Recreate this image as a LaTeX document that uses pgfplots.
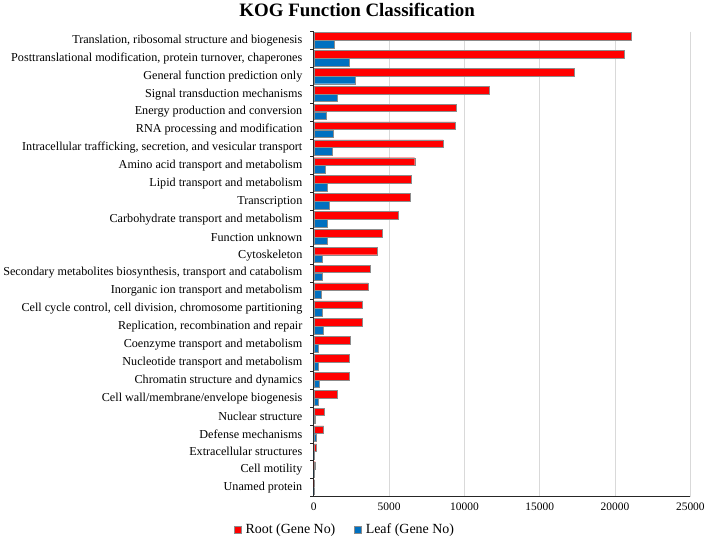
\documentclass[border=0pt]{standalone}
\usepackage{pgfplots}
\pgfplotsset{compat=1.18}
\usepackage{fontspec}
\setmainfont{Liberation Serif}
\definecolor{rootred}{RGB}{255,0,0}
\definecolor{leafblue}{RGB}{0,112,192}
\definecolor{gridgray}{RGB}{217,217,217}
\begin{document}
\begin{tikzpicture}
\begin{axis}[
  width=376.6bp, height=465bp,
  scale only axis,
  xbar,
  bar width=7.6bp,
  y dir=reverse,
  xmin=0, xmax=25000,
  ymin=-0.5, ymax=25.5,
  xtick={0,5000,...,25000},
  scaled x ticks=false,
  /pgf/number format/1000 sep={},
  /pgf/number format/assume math mode=true,
  xmajorgrids, major grid style={gridgray, line width=0.8pt},
  ytick={0,...,25},
  yticklabels={
    {Translation, ribosomal structure and biogenesis},
    {Posttranslational modification, protein turnover, chaperones},
    {General function prediction only},
    {Signal transduction mechanisms},
    {Energy production and conversion},
    {RNA processing and modification},
    {Intracellular trafficking, secretion, and vesicular transport},
    {Amino acid transport and metabolism},
    {Lipid transport and metabolism},
    {Transcription},
    {Carbohydrate transport and metabolism},
    {Function unknown},
    {Cytoskeleton},
    {Secondary metabolites biosynthesis, transport and catabolism},
    {Inorganic ion transport and metabolism},
    {Cell cycle control, cell division, chromosome partitioning},
    {Replication, recombination and repair},
    {Coenzyme transport and metabolism},
    {Nucleotide transport and metabolism},
    {Chromatin structure and dynamics},
    {Cell wall/membrane/envelope biogenesis},
    {Nuclear structure},
    {Defense mechanisms},
    {Extracellular structures},
    {Cell motility},
    {Unamed protein}},
  major y tick style={draw=none},
  minor ytick={-0.5,0.5,...,25.5},
  minor tick length=3.5bp,
  minor y tick style={black!85, line width=0.7pt},
  tick align=outside,
  major tick length=0pt,
  xticklabel style={yshift=-3bp},
  axis x line*=bottom, axis y line*=left,
  axis line style={black!85, line width=0.8pt},
  yticklabel style={font=\fontsize{12.2}{14}\selectfont, xshift=-8bp},
  xticklabel style={font=\fontsize{11.5}{13}\selectfont},
  title={\textbf{KOG Function Classification}},
  title style={font=\fontsize{19}{22}\selectfont, at={(0.115,1)}, anchor=base, yshift=9bp},
  legend style={at={(0.083,-0.071)}, anchor=center, draw=none, fill=none,
    legend columns=2, font=\fontsize{14}{16}\selectfont,
    /tikz/every odd column/.append style={column sep=2bp},
    /tikz/every even column/.append style={column sep=17bp}},
  legend image code/.code={\fill[#1] (0bp,-3.5bp) rectangle (7bp,3.5bp);},
]
\addplot[bar shift=4.2bp, fill=rootred, draw=black!45, line width=0.4pt] coordinates {
(21100,0) (20580,1) (17290,2) (11640,3) (9430,4) (9380,5) (8590,6) (6700,7)
(6480,8) (6370,9) (5600,10) (4540,11) (4180,12) (3720,13) (3610,14) (3230,15)
(3210,16) (2410,17) (2340,18) (2340,19) (1550,20) (660,21) (650,22) (180,23)
(110,24) (0,25)};
\addlegendentry{Root (Gene No)}
\addplot[bar shift=-3.6bp, fill=leafblue, draw=black!45, line width=0.4pt] coordinates {
(1350,0) (2320,1) (2720,2) (1550,3) (820,4) (1260,5) (1240,6) (730,7)
(880,8) (1020,9) (860,10) (860,11) (530,12) (530,13) (460,14) (530,15)
(600,16) (270,17) (270,18) (370,19) (310,20) (110,21) (130,22) (30,23)
(10,24) (0,25)};
\addlegendentry{Leaf (Gene No)}
\end{axis}
\end{tikzpicture}
\end{document}
